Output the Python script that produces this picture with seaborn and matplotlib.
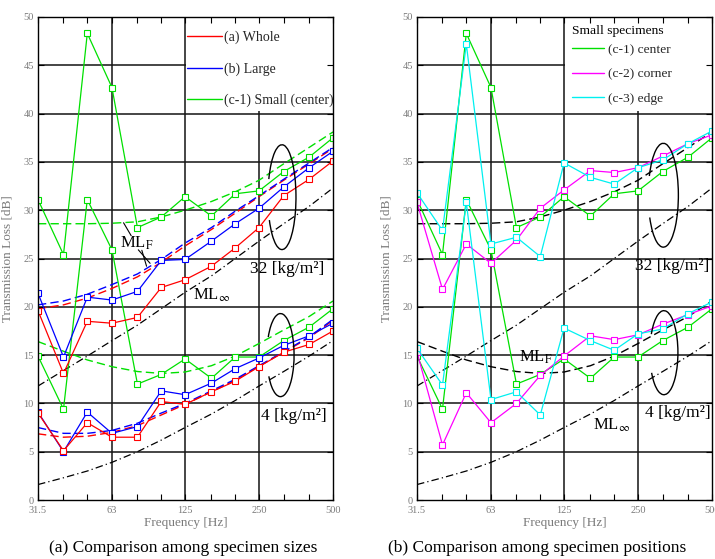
import matplotlib
matplotlib.use("Agg")
import matplotlib.pyplot as plt
import seaborn as sns
from matplotlib.patches import Arc, Rectangle
from matplotlib.ticker import FixedLocator, FixedFormatter, NullLocator

# ---------------- data ----------------
freqs = [31.5, 40, 50, 63, 80, 100, 125, 160, 200, 250, 315, 400, 500]
xtick_labels = ["31.5", "", "", "63", "", "", "125", "", "", "250", "", "", "500"]
octave_grid = [63, 125, 250]
yticks = [0, 5, 10, 15, 20, 25, 30, 35, 40, 45, 50]

whole_32 = [19.6, 13.1, 18.5, 18.3, 18.9, 22.0, 22.8, 24.2, 26.1, 28.2, 31.5, 33.2, 35.1]
whole_4 = [9.0, 5.1, 8.0, 6.5, 6.5, 10.2, 9.9, 11.2, 12.3, 13.8, 15.3, 16.1, 17.5]
large_32 = [21.4, 14.8, 21.0, 20.7, 21.6, 24.8, 24.9, 26.8, 28.6, 30.2, 32.4, 34.4, 36.1]
large_4 = [9.1, 5.0, 9.1, 6.9, 7.6, 11.3, 10.9, 12.1, 13.6, 14.7, 16.0, 17.0, 18.3]
center_32 = [31.1, 25.4, 48.3, 42.7, 28.2, 29.3, 31.4, 29.4, 31.7, 32.0, 34.0, 35.5, 37.5]
center_4 = [14.9, 9.4, 31.1, 25.9, 12.0, 13.0, 14.6, 12.6, 14.8, 14.8, 16.5, 17.9, 19.8]
corner_32 = [30.8, 21.8, 26.5, 24.5, 26.9, 30.2, 32.1, 34.1, 33.9, 34.4, 35.6, 36.9, 37.8]
corner_4 = [15.3, 5.7, 11.1, 8.0, 10.0, 12.9, 14.9, 17.0, 16.6, 17.1, 18.2, 19.2, 20.1]
edge_32 = [31.8, 27.9, 47.2, 26.5, 27.2, 25.2, 34.9, 33.4, 32.7, 34.4, 35.2, 36.9, 38.2]
edge_4 = [15.7, 11.9, 30.8, 10.4, 11.2, 8.8, 17.8, 16.5, 15.5, 17.2, 17.7, 19.3, 20.5]

mlf_small_32 = [28.6, 28.6, 28.6, 28.65, 28.8, 29.3, 30.0, 30.9, 31.9, 33.1, 34.8, 36.5, 38.1]
mlf_small_4 = [16.4, 15.4, 14.5, 13.8, 13.3, 13.1, 13.25, 13.9, 14.9, 16.2, 17.6, 19.0, 20.6]
mlf_whole_32 = [19.8, 20.2, 20.9, 21.9, 23.1, 24.6, 26.3, 28.0, 29.7, 31.4, 33.1, 34.8, 36.4]
mlf_large_32 = [20.2, 20.6, 21.3, 22.3, 23.4, 24.9, 26.6, 28.2, 29.9, 31.5, 33.2, 34.9, 36.5]
mlf_whole_4 = [6.85, 6.5, 6.6, 7.0, 7.7, 8.8, 9.9, 11.2, 12.4, 13.85, 15.3, 16.8, 18.6]
mlf_large_4 = [7.5, 6.9, 6.9, 7.2, 7.95, 9.0, 10.0, 11.3, 12.5, 13.9, 15.35, 16.9, 18.7]
mlinf_32 = [11.8, 13.4, 14.9, 16.5, 18.1, 19.8, 21.5, 23.2, 25.0, 26.8, 28.6, 30.4, 32.3]
mlinf_4 = [1.6, 2.3, 3.0, 3.9, 5.0, 6.2, 7.5, 8.9, 10.3, 11.8, 13.3, 14.9, 16.5]

RED, BLUE, GREEN, MAGENTA, CYAN = "#ff0000", "#0000ff", "#00e000", "#ff00ff", "#00f0f0"
GREY = "#7a7a7a"

sns.set_theme(style="white")
plt.rcParams["font.family"] = ["Liberation Serif", "DejaVu Serif"]
plt.rcParams["mathtext.fontset"] = "stix"

fig = plt.figure(figsize=(7.15, 5.59), dpi=100)
axL = fig.add_axes([38 / 715, 1 - 500 / 559, 295 / 715, 483 / 559])
axR = fig.add_axes([417 / 715, 1 - 500 / 559, 295 / 715, 483 / 559])

DASH = (0, (6, 3))
DASHDOT = (0, (6, 2.5, 1, 2.5))


def measured(ax, vals, color):
    sns.lineplot(x=freqs, y=vals, ax=ax, color=color, lw=0.9, marker="s",
                 markersize=3.8, markerfacecolor="white", markeredgecolor=color,
                 markeredgewidth=0.8, legend=False, estimator=None, sort=False,
                 zorder=3)


def theory(ax, vals, color, ls, lw=1.0):
    sns.lineplot(x=freqs, y=vals, ax=ax, color=color, lw=lw, linestyle=ls,
                 legend=False, estimator=None, sort=False, zorder=2)


def style_axes(ax):
    ax.set_xscale("log")
    ax.set_xlim(freqs[0], freqs[-1])
    ax.set_ylim(0, 50)
    ax.set_axisbelow(False)
    for y in yticks[1:-1]:
        ax.axhline(y, color="0.08", lw=1.1, zorder=0.8)
    for f in octave_grid:
        ax.axvline(f, color="0.08", lw=1.1, zorder=0.8)
    # white box behind legend
    ax.add_patch(Rectangle((0.503, 0.806), 0.497, 0.194, transform=ax.transAxes,
                           facecolor="white", edgecolor="none", zorder=1))
    ax.xaxis.set_major_locator(FixedLocator(freqs))
    ax.xaxis.set_major_formatter(FixedFormatter(xtick_labels))
    ax.xaxis.set_minor_locator(NullLocator())
    ax.set_yticks(yticks)
    ax.set_yticklabels([str(v) for v in yticks])
    ax.tick_params(axis="both", direction="in", length=4, width=0.8, color="black",
                   top=True, right=True, bottom=True, left=True,
                   labelcolor=GREY, labelsize=7.5)
    ax.tick_params(axis="x", pad=4)
    ax.tick_params(axis="y", pad=3)
    for s in ax.spines.values():
        s.set_color("black")
        s.set_linewidth(1.0)
        s.set_zorder(4)
    ax.set_xlabel("Frequency [Hz]", color=GREY, fontsize=9.5, labelpad=2)
    ax.set_ylabel("Transmission Loss [dB]", color=GREY, fontsize=9.5, labelpad=7)
    ax.set_facecolor("white")


# ---------------- left panel ----------------
style_axes(axL)
theory(axL, mlinf_32, "black", DASHDOT, 0.9)
theory(axL, mlinf_4, "black", DASHDOT, 0.9)
theory(axL, mlf_small_32, GREEN, DASH)
theory(axL, mlf_small_4, GREEN, DASH)
theory(axL, mlf_whole_32, RED, DASH)
theory(axL, mlf_large_32, BLUE, DASH)
theory(axL, mlf_whole_4, RED, DASH)
theory(axL, mlf_large_4, BLUE, DASH)
measured(axL, center_32, GREEN)
measured(axL, center_4, GREEN)
measured(axL, large_32, BLUE)
measured(axL, large_4, BLUE)
measured(axL, whole_32, RED)
measured(axL, whole_4, RED)

hL = [plt.Line2D([], [], color=RED, lw=1.0),
      plt.Line2D([], [], color=BLUE, lw=1.0),
      plt.Line2D([], [], color=GREEN, lw=1.0)]
legL = axL.legend(hL, ["(a) Whole", "(b) Large", "(c-1) Small (center)"],
                  loc="upper left", bbox_to_anchor=(0.505, 0.972), frameon=False,
                  fontsize=10, handlelength=2.5, handletextpad=0.15,
                  labelspacing=1.3, borderpad=0, borderaxespad=0)
legL.set_zorder(5)

axL.add_patch(Arc((0.827, 0.627), 0.095, 0.217, theta1=228, theta2=140,
                  transform=axL.transAxes, color="black", lw=1.0, zorder=5))
axL.add_patch(Arc((0.822, 0.300), 0.092, 0.172, theta1=228, theta2=138,
                  transform=axL.transAxes, color="black", lw=1.0, zorder=5))
tkw = dict(transform=axL.transAxes, ha="center", va="center", color="black", zorder=6)
axL.text(0.336, 0.532, r"ML$_{\mathrm{F}}$", fontsize=12, **tkw)
axL.text(0.590, 0.424, r"ML$_{\infty}$", fontsize=12, **tkw)
axL.text(0.846, 0.478, "32 [kg/m²]", fontsize=12.5, **tkw)
axL.text(0.866, 0.174, "4 [kg/m²]", fontsize=12.5, **tkw)
lk = dict(xycoords="axes fraction", textcoords="axes fraction",
          arrowprops=dict(arrowstyle="-", color="black", lw=0.8, shrinkA=0, shrinkB=0))
axL.annotate("", xy=(0.290, 0.574), xytext=(0.316, 0.547), **lk)
axL.annotate("", xy=(0.380, 0.490), xytext=(0.340, 0.518), **lk)
axL.annotate("", xy=(0.368, 0.484), xytext=(0.352, 0.517), **lk)

# ---------------- right panel ----------------
style_axes(axR)
theory(axR, mlinf_32, "black", DASHDOT, 0.9)
theory(axR, mlinf_4, "black", DASHDOT, 0.9)
theory(axR, mlf_small_32, "black", DASH)
theory(axR, mlf_small_4, "black", DASH)
measured(axR, center_32, GREEN)
measured(axR, center_4, GREEN)
measured(axR, corner_32, MAGENTA)
measured(axR, corner_4, MAGENTA)
measured(axR, edge_32, CYAN)
measured(axR, edge_4, CYAN)

hR = [plt.Line2D([], [], color=GREEN, lw=1.0),
      plt.Line2D([], [], color=MAGENTA, lw=1.0),
      plt.Line2D([], [], color=CYAN, lw=1.0)]
axR.text(0.525, 0.971, "Small specimens", transform=axR.transAxes, ha="left",
         va="center", fontsize=9.7, color="black", zorder=6)
legR = axR.legend(hR, ["(c-1) center", "(c-2) corner", "(c-3) edge"],
                  loc="upper left", bbox_to_anchor=(0.525, 0.945), frameon=False,
                  fontsize=9.7, handlelength=2.4, handletextpad=0.25,
                  labelspacing=0.88, borderpad=0, borderaxespad=0)
legR.set_zorder(5)

axR.add_patch(Arc((0.835, 0.631), 0.102, 0.215, theta1=225, theta2=140,
                  transform=axR.transAxes, color="black", lw=1.0, zorder=5))
axR.add_patch(Arc((0.837, 0.305), 0.095, 0.174, theta1=225, theta2=138,
                  transform=axR.transAxes, color="black", lw=1.0, zorder=5))
tkw = dict(transform=axR.transAxes, ha="center", va="center", color="black", zorder=6)
axR.text(0.403, 0.296, r"ML$_{\mathrm{F}}$", fontsize=12, **tkw)
axR.text(0.661, 0.155, r"ML$_{\infty}$", fontsize=12, **tkw)
axR.text(0.866, 0.484, "32 [kg/m²]", fontsize=12.5, **tkw)
axR.text(0.883, 0.180, "4 [kg/m²]", fontsize=12.5, **tkw)

fig.text(183 / 715, 1 - 548 / 559, "(a) Comparison among specimen sizes",
         ha="center", va="center", fontsize=12.5, color="black")
fig.text(537 / 715, 1 - 548 / 559, "(b) Comparison among specimen positions",
         ha="center", va="center", fontsize=12.5, color="black")

fig.savefig("out.png", dpi=100, facecolor="white")
